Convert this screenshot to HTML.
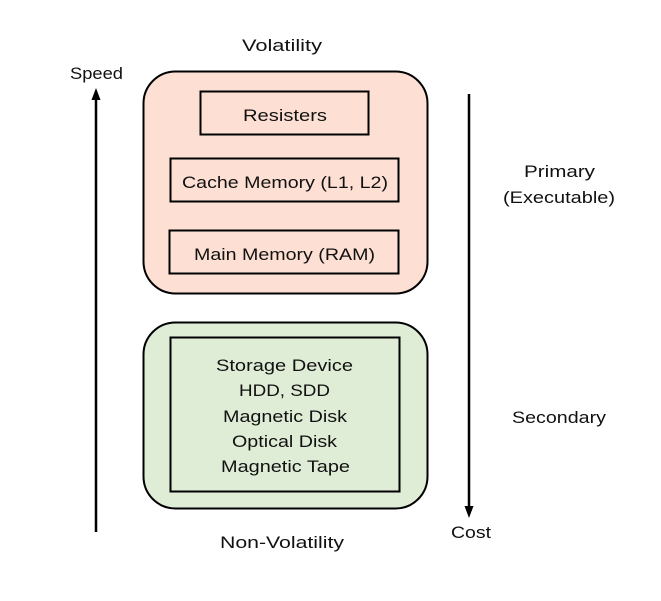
<!DOCTYPE html>
<html><head><meta charset="utf-8"><style>
html,body{margin:0;padding:0;background:#fff;}
svg{display:block;}
text{font-family:"Liberation Sans","NanumGothic",sans-serif;font-size:17px;fill:#111;}
</style></head><body>
<svg width="661" height="601" viewBox="0 0 661 601" xmlns="http://www.w3.org/2000/svg">
<rect x="143.5" y="71.5" width="284" height="222" rx="32" fill="#fde0d3" stroke="#000" stroke-width="2"/>
<rect x="200.5" y="91.5" width="168" height="43" fill="#fde0d3" stroke="#000" stroke-width="2"/>
<rect x="170.5" y="158.5" width="228" height="43" fill="#fde0d3" stroke="#000" stroke-width="2"/>
<rect x="169.5" y="230.5" width="229" height="43" fill="#fde0d3" stroke="#000" stroke-width="2"/>
<rect x="143.5" y="322.5" width="284" height="186" rx="32" fill="#dfecd6" stroke="#000" stroke-width="2"/>
<rect x="170.5" y="337.5" width="229" height="154" fill="#dfecd6" stroke="#000" stroke-width="2"/>
<line x1="96" y1="532" x2="96" y2="98" stroke="#000" stroke-width="2.5"/>
<polygon points="96,88 91.5,100 100.5,100" fill="#000"/>
<line x1="469" y1="94" x2="469" y2="508" stroke="#000" stroke-width="2.5"/>
<polygon points="469,518 464.5,506 473.5,506" fill="#000"/>
<text x="242" y="51" textLength="80" lengthAdjust="spacingAndGlyphs">Volatility</text>
<text x="70" y="79" textLength="53" lengthAdjust="spacingAndGlyphs">Speed</text>
<text x="243" y="121" textLength="84" lengthAdjust="spacingAndGlyphs">Resisters</text>
<text x="182" y="188" textLength="206" lengthAdjust="spacingAndGlyphs">Cache Memory (L1, L2)</text>
<text x="194" y="260" textLength="181" lengthAdjust="spacingAndGlyphs">Main Memory (RAM)</text>
<text x="216" y="371" textLength="137" lengthAdjust="spacingAndGlyphs">Storage Device</text>
<text x="239" y="396" textLength="91" lengthAdjust="spacingAndGlyphs">HDD, SDD</text>
<text x="223" y="422" textLength="124" lengthAdjust="spacingAndGlyphs">Magnetic Disk</text>
<text x="232" y="447" textLength="105" lengthAdjust="spacingAndGlyphs">Optical Disk</text>
<text x="221" y="472" textLength="129" lengthAdjust="spacingAndGlyphs">Magnetic Tape</text>
<text x="220" y="548" textLength="124" lengthAdjust="spacingAndGlyphs">Non-Volatility</text>
<text x="524" y="177" textLength="71" lengthAdjust="spacingAndGlyphs">Primary</text>
<text x="503" y="203" textLength="112" lengthAdjust="spacingAndGlyphs">(Executable)</text>
<text x="512" y="423" textLength="94" lengthAdjust="spacingAndGlyphs">Secondary</text>
<text x="451" y="538" textLength="40" lengthAdjust="spacingAndGlyphs">Cost</text>
</svg>
</body></html>
